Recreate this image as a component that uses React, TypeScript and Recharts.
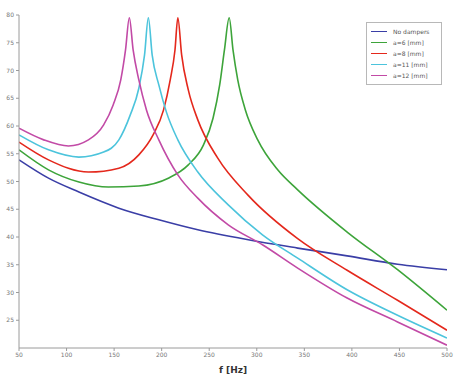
import React from "react";
import { LineChart, Line, XAxis, YAxis, Legend } from "recharts";

// frequencies [Hz] and response values
const noDampF = [50, 81, 113, 155, 197, 238, 291, 343, 395, 448, 500];
const noDampV = [53.9, 50.6, 48.1, 45.2, 43.1, 41.3, 39.5, 38.0, 36.6, 35.1, 34.1];

const a6F = [50, 81, 113, 144, 176, 207, 228, 244, 254, 261, 266, 271, 275, 280, 288, 301, 322, 343, 395, 448, 500];
const a6V = [55.7, 52.1, 49.9, 49.0, 49.2, 50.6, 53.0, 56.6, 61.4, 67.4, 73.7, 79.5, 73.7, 68.3, 62.9, 57.5, 52.1, 48.5, 40.9, 34.1, 26.8];

const a8F = [50, 81, 123, 155, 176, 191, 202, 209, 214, 217, 221, 228, 238, 259, 291, 343, 395, 448, 500];
const a8V = [57.1, 53.9, 51.7, 52.4, 54.8, 58.4, 62.9, 68.3, 73.7, 79.5, 72.8, 66.5, 61.1, 54.2, 47.5, 39.7, 34.0, 28.6, 23.2];

const a11F = [50, 81, 113, 139, 155, 167, 176, 182, 186, 190, 197, 205, 217, 238, 270, 306, 343, 395, 448, 500];
const a11V = [58.4, 55.7, 54.4, 55.3, 57.5, 62.0, 66.8, 72.8, 79.5, 72.8, 67.4, 62.5, 57.5, 51.7, 45.8, 40.4, 36.2, 30.5, 25.9, 21.8];

const a12F = [50, 76, 102, 123, 139, 149, 157, 162, 166, 170, 176, 184, 197, 217, 238, 270, 306, 343, 395, 448, 500];
const a12V = [59.6, 57.5, 56.4, 57.5, 60.2, 63.8, 68.3, 73.7, 79.5, 73.7, 68.3, 62.9, 57.5, 51.2, 47.0, 42.2, 38.6, 34.4, 29.0, 24.7, 20.5];

const xTicks = [50, 100, 150, 200, 250, 300, 350, 400, 450, 500];
const yTicks = [25, 30, 35, 40, 45, 50, 55, 60, 65, 70, 75, 80];

const seriesNames = ["No dampers", "a=6 [mm]", "a=8 [mm]", "a=11 [mm]", "a=12 [mm]"];
const seriesColors = ["#3a3ea6", "#3da43a", "#e4281c", "#4cc4dc", "#c24aa6"];

const toRows = (f: number[], v: number[]) => f.map((x, i) => ({ f: x, v: v[i] }));
const seriesData = [
  toRows(noDampF, noDampV),
  toRows(a6F, a6V),
  toRows(a8F, a8V),
  toRows(a11F, a11V),
  toRows(a12F, a12V),
];

const renderLegend = () => (
  <div
    style={{
      border: "1px solid #b8b8b8",
      background: "#fff",
      padding: "3px 4px",
      width: 76,
      fontFamily: "DejaVu Sans, sans-serif",
      fontSize: 6,
      color: "#555",
      boxSizing: "border-box",
    }}
  >
    {seriesNames.map((n, i) => (
      <div key={n} style={{ display: "flex", alignItems: "center", height: 11 }}>
        <div style={{ width: 16, height: 0, borderTop: `1.5px solid ${seriesColors[i]}`, marginRight: 6 }} />
        <span>{n}</span>
      </div>
    ))}
  </div>
);

const tickStyle = { fontSize: 6, fill: "#777", fontFamily: "DejaVu Sans, sans-serif" };

export default function App() {
  return (
    <div style={{ position: "absolute", left: 0, top: 0, background: "#fff" }}>
      <LineChart width={454} height={374} margin={{ top: 15, right: 7, left: 0, bottom: 0 }}>
        <XAxis
          xAxisId={0}
          dataKey="f"
          type="number"
          domain={[50, 500]}
          ticks={xTicks}
          allowDataOverflow
          height={26}
          stroke="#9a9a9a"
          tickSize={3}
          tick={tickStyle}
          interval={0}
          label={{ value: "f [Hz]", position: "insideBottom", offset: 1, fontSize: 9, fontWeight: "bold", fill: "#333", fontFamily: "DejaVu Sans, sans-serif" }}
        />
        <XAxis
          xAxisId="top"
          orientation="top"
          dataKey="f"
          type="number"
          domain={[50, 500]}
          ticks={xTicks}
          height={0}
          stroke="#b5b5b5"
          tickSize={3}
          tick={false}
        />
        <YAxis
          yAxisId={0}
          type="number"
          domain={[20, 80]}
          ticks={yTicks}
          allowDataOverflow
          width={19}
          stroke="#9a9a9a"
          tickSize={3}
          tick={tickStyle}
          interval={0}
        />
        <YAxis
          yAxisId="right"
          orientation="right"
          type="number"
          domain={[20, 80]}
          ticks={yTicks}
          width={0}
          stroke="#b5b5b5"
          tickSize={3}
          tick={false}
        />
        <Legend
          layout="vertical"
          align="center"
          verticalAlign="middle"
          wrapperStyle={{ top: 22, left: 366, width: 80 }}
          content={renderLegend}
        />
        {seriesData.map((d, i) => (
          <Line
            key={seriesNames[i]}
            data={d}
            dataKey="v"
            name={seriesNames[i]}
            type="monotone"
            stroke={seriesColors[i]}
            strokeWidth={1.6}
            dot={false}
            isAnimationActive={false}
          />
        ))}
      </LineChart>
    </div>
  );
}
